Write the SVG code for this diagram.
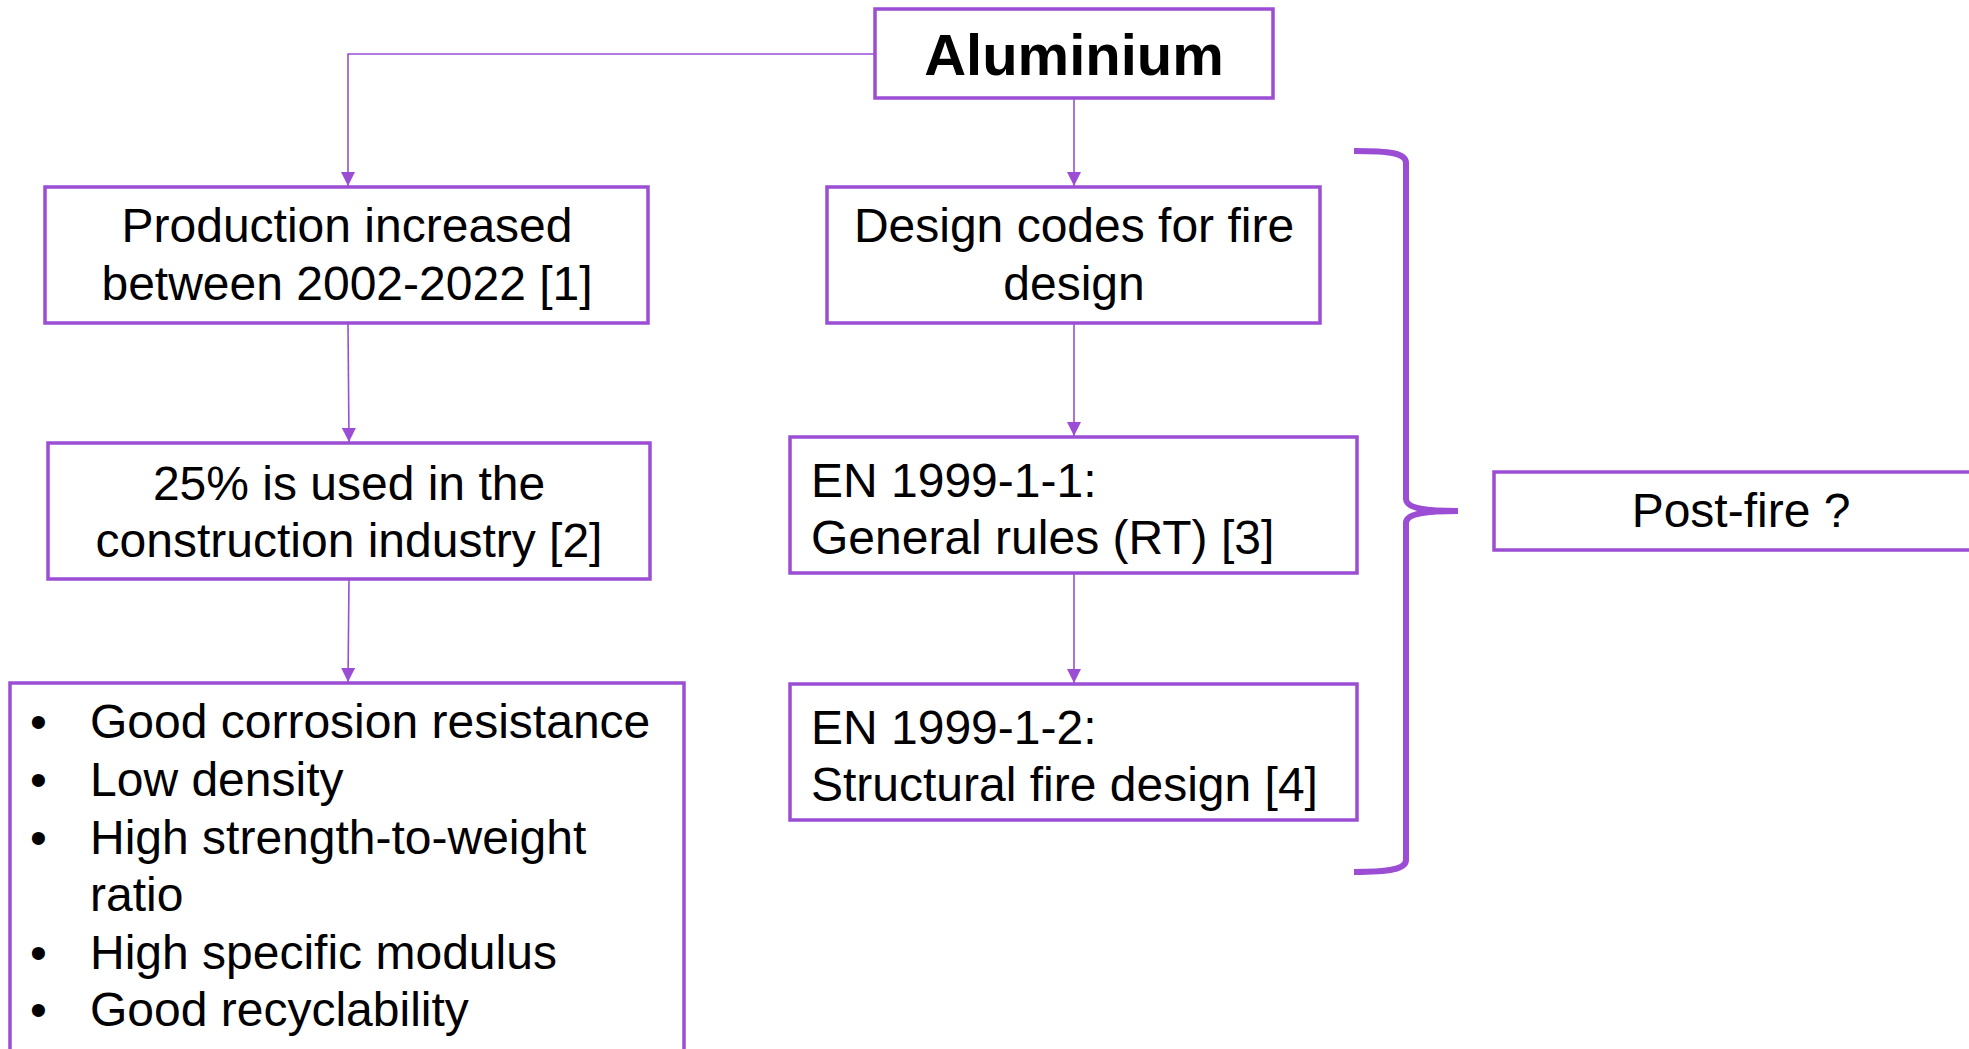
<svg xmlns="http://www.w3.org/2000/svg" width="1969" height="1049" viewBox="0 0 1969 1049">
<defs>
<style>
.box{fill:#fff;stroke:#9b4dd4;stroke-width:3.5}
.con{fill:none;stroke:#9b4dd4;stroke-width:1.6;marker-end:url(#ah)}
.t{font-family:"Liberation Sans",Arial,sans-serif;font-size:48px;fill:#000}
.c{text-anchor:middle}
.b{font-weight:bold;font-size:58px}
</style>
<marker id="ah" viewBox="0 0 14 14" refX="14" refY="7" markerWidth="14" markerHeight="14" markerUnits="userSpaceOnUse" orient="auto">
<path d="M0,0 L14,7 L0,14 z" fill="#9b4dd4"/>
</marker>
</defs>
<rect width="1969" height="1049" fill="#fff"/>
<g id="connectors">
<path class="con" d="M875,54 L348,54 L348,186"/>
<path class="con" d="M1074,98 L1074,186"/>
<path class="con" d="M348,323 L349,442"/>
<path class="con" d="M349,579 L348,682"/>
<path class="con" d="M1074,323 L1074,436"/>
<path class="con" d="M1074,573 L1074,683"/>
<path fill="none" stroke="#9b4dd4" stroke-width="6" d="M1354,151 C1390,151 1406,153 1406,163 L1406,499 C1406,507 1420,511 1458,511 C1420,511 1406,515 1406,523 L1406,860 C1406,869 1390,872 1354,872"/>
</g>
<g id="aluminium">
<rect class="box" x="875" y="9" width="398" height="89"/>
<text class="t c b" x="1074" y="75">Aluminium</text>
</g>
<g id="production">
<rect class="box" x="45" y="187" width="603" height="136"/>
<text class="t c" x="347" y="242">Production increased</text>
<text class="t c" x="347" y="300">between 2002-2022 [1]</text>
</g>
<g id="construction">
<rect class="box" x="48" y="443" width="602" height="136"/>
<text class="t c" x="349" y="500">25% is used in the</text>
<text class="t c" x="349" y="557">construction industry [2]</text>
</g>
<g id="properties">
<rect class="box" x="10" y="683" width="674" height="380"/>
<text class="t" x="30" y="738">•</text><text class="t" x="90" y="738">Good corrosion resistance</text>
<text class="t" x="30" y="796">•</text><text class="t" x="90" y="796">Low density</text>
<text class="t" x="30" y="854">•</text><text class="t" x="90" y="854">High strength-to-weight</text>
<text class="t" x="90" y="911">ratio</text>
<text class="t" x="30" y="969">•</text><text class="t" x="90" y="969">High specific modulus</text>
<text class="t" x="30" y="1026">•</text><text class="t" x="90" y="1026">Good recyclability</text>
</g>
<g id="design-codes">
<rect class="box" x="827" y="187" width="493" height="136"/>
<text class="t c" x="1074" y="242">Design codes for fire</text>
<text class="t c" x="1074" y="300">design</text>
</g>
<g id="en1999-1-1">
<rect class="box" x="790" y="437" width="567" height="136"/>
<text class="t" x="811" y="497">EN 1999-1-1:</text>
<text class="t" x="811" y="554">General rules (RT) [3]</text>
</g>
<g id="en1999-1-2">
<rect class="box" x="790" y="684" width="567" height="136"/>
<text class="t" x="811" y="744">EN 1999-1-2:</text>
<text class="t" x="811" y="801">Structural fire design [4]</text>
</g>
<g id="post-fire">
<rect class="box" x="1494" y="472" width="500" height="78"/>
<text class="t c" x="1741" y="527">Post-fire ?</text>
</g>
</svg>
